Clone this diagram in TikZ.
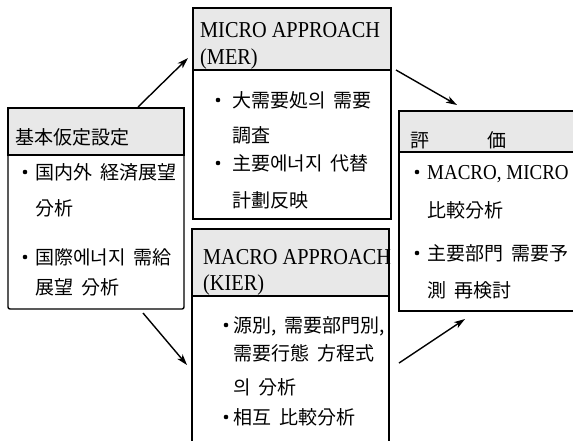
\documentclass[tikz,border=0pt]{standalone}
\usepackage{fontspec}
\setmainfont{Liberation Serif}
\newfontfamily\cjk{Noto Sans CJK KR}
\usetikzlibrary{arrows.meta}
\newcommand{\gp}{\hspace{0.42em}}
\newcommand{\tallt}[1]{\scalebox{1}[1.12]{#1}}
\begin{document}
\begin{tikzpicture}[x=1pt,y=-1pt,
  frame/.style={draw, line width=1.4pt, anchor=north west, inner sep=0pt, outer sep=0pt},
  hdr/.style={draw, line width=1.3pt, fill=black!9, anchor=north west, inner sep=0pt, outer sep=0pt},
  cj/.style={anchor=base west, inner sep=0pt, font=\cjk\fontsize{19}{21}\selectfont},
  lat/.style={anchor=base west, inner sep=0pt, font=\fontsize{20.3}{22}\selectfont},
  latb/.style={anchor=base west, inner sep=0pt, font=\fontsize{19}{21}\selectfont},
  bul/.style={circle, fill=black, inner sep=0pt, minimum size=4.6pt},
  arr/.style={line width=1.4pt, -{Stealth[length=11pt,width=7pt,inset=3pt]}},
]
\useasboundingbox (0,0) rectangle (573,440);
\clip (0,0) rectangle (573,440);

% left box
\node[hdr, minimum width=176pt, minimum height=47pt] (lhead) at (8,108) {};
\node[frame, rounded corners=2pt, minimum width=176pt, minimum height=201pt] (lbox) at (8,108) {};
\node[cj] (lh) at (15,144) {基本仮定設定};
\node[bul] (lb1) at (25,172) {};
\node[cj] (l1) at (35,179) {国内外\gp 経済展望};
\node[cj] (l2) at (35,215) {分析};
\node[bul] (lb2) at (25,257) {};
\node[cj] (l3) at (35,264) {国際에너지\gp 需給};
\node[cj] (l4) at (35,294) {展望\gp 分析};

% micro box
\node[hdr, minimum width=198pt, minimum height=62pt] (mihead) at (193,8) {};
\node[frame, minimum width=198pt, minimum height=211pt] (mibox) at (193,8) {};
\node[lat] (mh1) at (200,37) {\tallt{MICRO APPROACH}};
\node[lat] (mh2) at (200,64) {\tallt{(MER)}};
\node[bul] (mb1) at (218,100) {};
\node[cj] (m1) at (232,107) {大需要処의\gp 需要};
\node[cj] (m2) at (232,142) {調査};
\node[bul] (mb2) at (218,163) {};
\node[cj] (m3) at (232,170) {主要에너지\gp 代替};
\node[cj] (m4) at (232,207) {計劃反映};

% macro box
\node[hdr, minimum width=197pt, minimum height=67pt] (mahead) at (192,229) {};
\node[frame, minimum width=197pt, minimum height=260pt] (mabox) at (192,229) {};
\node[lat] (ah1) at (203,264) {\tallt{MACRO APPROACH}};
\node[lat] (ah2) at (203,290) {\tallt{(KIER)}};
\node[bul] (ab1) at (226,325) {};
\node[cj] (a1) at (233,332) {源別,\gp 需要部門別,};
\node[cj] (a2) at (233,360) {需要行態\gp 方程式};
\node[cj] (a3) at (233,394) {의\gp 分析};
\node[bul] (ab2) at (226,417) {};
\node[cj] (a4) at (233,424) {相互\gp 比較分析};

% right box
\node[hdr, minimum width=200pt, minimum height=41pt] (rhead) at (399,111) {};
\node[frame, minimum width=200pt, minimum height=200pt] (rbox) at (399,111) {};
\node[cj] (rh1) at (410,147) {評};
\node[cj] (rh2) at (487,147) {価};
\node[bul] (rb1) at (417,172) {};
\node[latb] (r1) at (427,179) {\tallt{MACRO, MICRO}};
\node[cj] (r2) at (427,217) {比較分析};
\node[bul] (rb2) at (417,253) {};
\node[cj] (r3) at (427,260) {主要部門\gp 需要予};
\node[cj] (r4) at (427,297) {測\gp 再検討};

% arrows
\coordinate (p1s) at (138,107);
\coordinate (p1e) at (188,58);
\coordinate (p2s) at (143,313);
\coordinate (p2e) at (187,365);
\coordinate (p3s) at (396,70);
\coordinate (p3e) at (457,105);
\coordinate (p4s) at (399,363);
\coordinate (p4e) at (465,319);
\draw[arr] (p1s) -- (p1e);
\draw[arr] (p2s) -- (p2e);
\draw[arr] (p3s) -- (p3e);
\draw[arr] (p4s) -- (p4e);
\end{tikzpicture}
\end{document}
